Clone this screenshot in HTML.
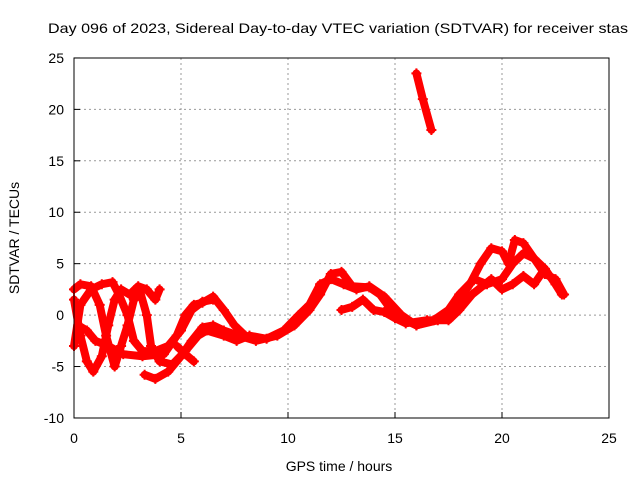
<!DOCTYPE html>
<html><head><meta charset="utf-8"><style>
body{margin:0;background:#fff}
svg text{font-family:"Liberation Sans",sans-serif;font-size:14px;fill:#000}
</style></head><body>
<svg id="c" width="640" height="480">
<text x="48" y="33" textLength="580" lengthAdjust="spacingAndGlyphs" font-size="15">Day 096 of 2023, Sidereal Day-to-day VTEC variation (SDTVAR) for receiver stas</text>
<text x="339" y="471" text-anchor="middle">GPS time / hours</text>
<text transform="translate(19,238) rotate(-90)" text-anchor="middle">SDTVAR / TECUs</text>
<g id="grid"></g><g id="marks"></g>
<rect x="74" y="58" width="535" height="360" fill="none" stroke="#000"/>
</svg>
<script>
const xTicks=[0,5,10,15,20,25];
const yTicks=[-10,-5,0,5,10,15,20,25];
const trackA=[[0,1.5],[0.3,-2],[0.6,-4.5],[0.9,-5.5],[1.3,-4],[1.6,-1],[1.9,1.5],[2.2,2.5],[2.6,2],[3,2.8],[3.4,2.5],[3.8,1.5],[4,2.5]];
const trackB=[[0,2.5],[0.3,3],[0.8,2.8],[1.2,1],[1.5,-2],[1.9,-5],[2.2,-3],[2.5,-1],[2.8,1.5],[3.1,2.2],[3.4,0],[3.6,-3],[4,-4.5],[4.6,-4.8],[5.2,-3.5],[5.8,-2],[6.2,-1.5],[7,-2],[7.6,-2.5],[8.2,-2],[9,-2.3],[9.8,-1.5],[10.5,0],[11,1],[11.5,3],[12,3.5],[12.6,3],[13.2,2.5],[13.8,2.8],[14.5,1.8],[15.3,0],[16,-1],[16.8,-0.5],[17.5,0.5],[18,2],[18.7,3.5],[19.3,3],[20,3.5],[20.5,5],[21,6],[21.5,5.5],[22,4],[22.5,3.5],[22.9,2]];
const trackC=[[0,-3],[0.3,1],[0.8,2.5],[1.3,3],[1.8,3.2],[2.1,2],[2.5,0],[2.8,-2.5],[3.2,-3.5],[3.8,-3.5],[4.4,-3],[5,-1.5],[5.5,0.5],[6,1.3],[6.5,1.5]];
const trackD=[[0.2,-1],[0.6,-1.5],[1,-2.5],[1.6,-3],[2.3,-3.8],[3.2,-4],[4.2,-3.8],[4.8,-2],[5.2,0],[5.6,1],[6,1.2],[6.5,1.8],[7,0.5],[7.5,-1],[8,-2],[8.5,-2.3]];
const trackE=[[3.3,-5.8],[3.8,-6.2],[4.4,-5.5],[5,-4],[5.5,-2.5],[6,-1.2],[6.5,-1],[7,-1.5],[7.7,-2],[8.5,-2.5],[9.5,-2],[10.3,-1],[11,0.5],[11.5,2],[12,4],[12.5,4.2],[13,2.8],[13.8,2.7],[14.3,2],[15,0],[15.5,-0.5],[16,-1],[17,-0.5],[17.5,0],[18,1.5],[18.5,3],[19,5],[19.5,6.5],[20,6.2],[20.3,5],[20.6,7.3],[21,7],[21.5,5.5],[22,4.5],[22.5,3],[22.8,2]];
const trackF=[[4.8,-3],[5.2,-3.8],[5.6,-4.5]];
const trackG=[[12.5,0.5],[13,0.8],[13.5,1.5],[14,0.5],[14.5,0.3],[15,-0.3],[15.5,-0.8],[16.5,-0.5],[17.5,-0.5],[18,0.5],[18.6,2],[19.2,3],[19.5,3.5],[20,2.5],[20.5,3],[21,3.8],[21.5,3],[22,4.5]];
const trackH=[[16,23.5],[16.3,21],[16.7,18]];
const tracks=[trackA,trackB,trackC,trackD,trackE,trackF,trackG,trackH];
const NS="http://www.w3.org/2000/svg";
const X=v=>74+v*21.4, Y=v=>315.1-v*10.286;
const grid=document.getElementById('grid'), marks=document.getElementById('marks');
function mk(t,a,p){const e=document.createElementNS(NS,t);for(const k in a)e.setAttribute(k,a[k]);p.appendChild(e);return e;}
xTicks.forEach(t=>{
 if(t>0&&t<25){const l=mk('line',{x1:X(t),x2:X(t),y1:58,y2:418,stroke:'#999','stroke-dasharray':'2,3'},grid);
 
 }
 mk('line',{x1:X(t),x2:X(t),y1:418,y2:412,stroke:'#000'},grid);
 const tx=mk('text',{x:X(t),y:443,'text-anchor':'middle'},grid);tx.textContent=t;
 
 
});
yTicks.forEach(t=>{
 if(t>-10&&t<25){const l=mk('line',{x1:74,x2:609,y1:Y(t),y2:Y(t),stroke:'#999','stroke-dasharray':'2,3'},grid);
 
 }
 mk('line',{x1:74,x2:80,y1:Y(t),y2:Y(t),stroke:'#000'},grid);
 const tx=mk('text',{x:64,y:Y(t)+5,'text-anchor':'end'},grid);tx.textContent=t;
 
 
});
tracks.forEach((tr,i)=>{
 const pl=mk('polyline',{points:tr.map(p=>X(p[0])+','+Y(p[1])).join(' '),fill:'none',stroke:'#f00','stroke-width':8,'stroke-linejoin':'round','stroke-linecap':'round'},marks);
 
 
 tr.forEach(p=>{
  const g=mk('path',{d:`M${X(p[0])-5},${Y(p[1])}h10M${X(p[0])},${Y(p[1])-5}v10`,stroke:'#f00','stroke-width':2},marks);
  
  
 });
});
</script>
</body></html>
